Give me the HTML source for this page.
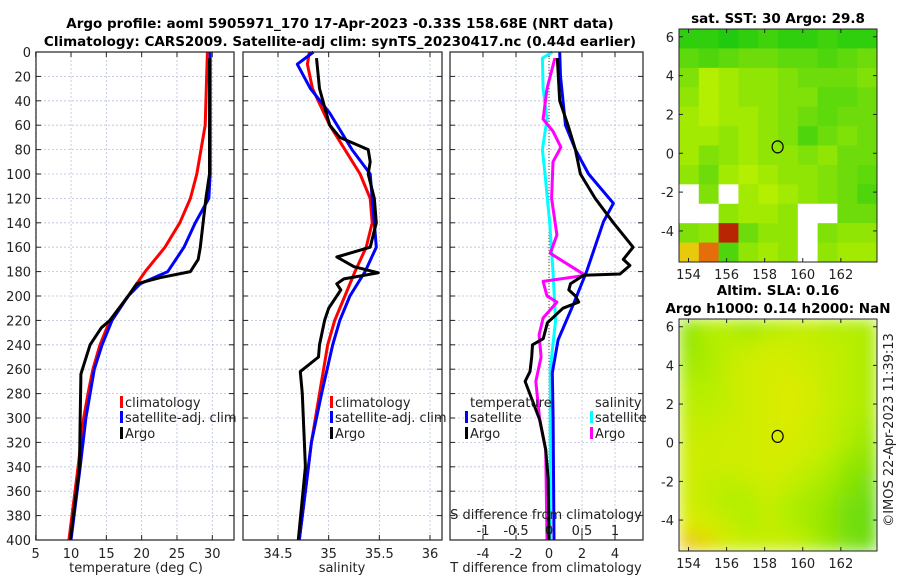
<!DOCTYPE html>
<html><head><meta charset="utf-8"><style>
body{margin:0;background:#fff}
svg{display:block;font-family:"DejaVu Sans","Liberation Sans",sans-serif}
</style></head><body>
<svg id="fig" width="900" height="580" viewBox="0 0 900 580">
<text x="340" y="28" text-anchor="middle" font-size="13.5" font-weight="bold">Argo profile: aoml 5905971_170 17-Apr-2023 -0.33S 158.68E (NRT data)</text>
<text x="340" y="46" text-anchor="middle" font-size="13.5" font-weight="bold">Climatology: CARS2009. Satellite-adj clim: synTS_20230417.nc (0.44d earlier)</text>
<text x="778" y="23" text-anchor="middle" font-size="13.5" font-weight="bold">sat. SST: 30 Argo: 29.8</text>
<text x="778" y="295" text-anchor="middle" font-size="13.5" font-weight="bold">Altim. SLA: 0.16</text>
<text x="778" y="313" text-anchor="middle" font-size="13.5" font-weight="bold">Argo h1000: 0.14 h2000: NaN</text>
<text transform="translate(893,430) rotate(-90)" text-anchor="middle" font-size="13" fill="#222">©IMOS 22-Apr-2023 11:39:13</text>
</svg>
<script>
const depthTicks=[0,20,40,60,80,100,120,140,160,180,200,220,240,260,280,300,320,340,360,380,400];
const tempTicks=[5,10,15,20,25,30];
const salTicks=[34.5,35,35.5,36];
const tdiffTicks=[-4,-2,0,2,4];
const sdiffTicks=[-1,-0.5,0,0.5,1];
const sdiffLabels=["-1","-0.5","0","0.5","1"];
// temperature profiles
const climTD=[0,60,80,100,120,140,160,180,200,220,240,260,280,300,340,400];
const climT=[29.3,29.0,28.4,27.8,26.9,25.4,23.3,20.5,18.1,15.5,14.1,13.1,12.4,11.8,11.0,9.7];
const satTD=[0,100,120,140,160,180,190,200,220,240,260,300,340,400];
const satT=[29.7,29.7,29.5,27.6,26.0,23.7,19.8,18.1,15.8,14.4,13.3,12.1,11.3,10.0];
const argoTD=[5,100,120,140,160,170,180,185,190,200,220,226,240,264,300,340,400];
const argoT=[29.6,29.6,29.1,28.7,28.3,28.0,26.9,22.6,19.3,18.1,15.5,14.3,12.7,11.4,11.3,11.2,9.9];
// salinity profiles
const climSD=[0,10,30,60,80,100,120,140,160,180,200,220,240,280,320,360,400];
const climS=[34.81,34.79,34.84,35.01,35.16,35.31,35.41,35.43,35.37,35.26,35.16,35.06,34.99,34.91,34.83,34.77,34.71];
const satSD=[0,10,30,50,80,100,120,140,160,180,200,220,240,280,320,360,400];
const satS=[34.85,34.69,34.82,35.01,35.23,35.41,35.43,35.45,35.47,35.36,35.21,35.11,35.04,34.93,34.83,34.77,34.71];
const argoSD=[5,30,60,70,80,90,100,120,140,160,168,176,181,186,190,195,200,210,220,240,250,262,280,340,400];
const argoS=[34.88,34.91,35.01,35.11,35.39,35.41,35.39,35.45,35.47,35.41,35.08,35.25,35.49,35.15,35.08,35.12,35.08,35.0,34.96,34.91,34.9,34.72,34.74,34.77,34.7];
// difference profiles
const satDTD=[0,20,60,80,100,124,139,179,206,236,263,300,400];
const satDT=[0.65,0.7,1.0,1.6,2.4,3.9,3.3,2.3,1.5,0.55,0.2,0.25,0.3];
const argoDTD=[5,40,60,80,100,120,140,160,170,175,182,183,190,195,200,205,210,222,235,240,250,262,270,302,326,350,400];
const argoDT=[0.5,0.65,1.15,1.6,1.9,2.8,3.9,5.1,4.5,4.9,4.3,2.1,1.3,1.2,1.6,1.8,0.85,-0.1,-0.35,-1.0,-1.05,-1.15,-1.45,-0.55,-0.2,-0.05,0.0];
const satDSD=[0,5,30,55,80,100,140,180,220,260,300,400];
const satDS=[0.05,-0.1,-0.09,-0.03,-0.1,-0.06,0.01,0.06,0.1,0.02,0.02,0.02];
const argoDSD=[5,30,55,65,78,90,120,150,165,183,188,200,205,218,232,250,270,302,326,400];
const argoDS=[0.09,-0.03,-0.09,0.06,0.18,0.06,0.04,0.12,0.02,0.55,-0.09,-0.03,0.12,-0.09,-0.15,-0.12,-0.2,-0.14,-0.05,-0.03];
// maps
const lonTicks=[154,156,158,160,162];
const latTicks=[-4,-2,0,2,4,6];
const sstGrid=[
[0.1,0.1,0.05,0.1,0.15,0.1,0.1,0.15,0.1,0.1],
[0.25,0.2,0.25,0.3,0.3,0.25,0.25,0.2,0.25,0.3],
[0.35,0.5,0.45,0.4,0.4,0.35,0.3,0.3,0.3,0.35],
[0.4,0.5,0.45,0.4,0.4,0.35,0.35,0.25,0.25,0.3],
[0.45,0.5,0.45,0.45,0.4,0.35,0.3,0.25,0.3,0.3],
[0.45,0.45,0.4,0.45,0.4,0.35,0.2,0.3,0.35,0.3],
[0.45,0.35,0.4,0.45,0.4,0.4,0.35,0.4,0.3,0.3],
[0.4,0.3,0.45,0.5,0.45,0.4,0.4,0.35,0.3,0.25],
[null,0.35,null,0.45,0.5,0.45,0.4,0.35,0.3,0.2],
[null,null,0.4,0.45,0.45,0.4,null,null,0.3,0.3],
[0.35,0.4,0.95,0.3,0.4,0.4,null,0.35,0.4,0.4],
[0.7,0.85,0.2,0.4,0.45,0.4,null,0.4,0.45,0.45]];
const slaGrid=[
[0.4,0.5,0.5,0.45,0.5,0.52,0.55,0.5,0.5,0.48],
[0.42,0.48,0.52,0.55,0.58,0.58,0.56,0.55,0.52,0.48],
[0.45,0.48,0.55,0.58,0.6,0.6,0.58,0.55,0.52,0.48],
[0.5,0.5,0.55,0.58,0.6,0.62,0.6,0.55,0.52,0.48],
[0.52,0.52,0.55,0.58,0.6,0.62,0.6,0.56,0.52,0.48],
[0.55,0.55,0.57,0.58,0.6,0.62,0.58,0.55,0.5,0.46],
[0.57,0.57,0.58,0.58,0.6,0.6,0.58,0.55,0.48,0.42],
[0.58,0.57,0.58,0.58,0.6,0.58,0.55,0.5,0.42,0.38],
[0.58,0.55,0.52,0.55,0.58,0.55,0.5,0.46,0.38,0.34],
[0.58,0.55,0.5,0.5,0.55,0.5,0.46,0.42,0.34,0.3],
[0.62,0.58,0.55,0.5,0.55,0.5,0.46,0.4,0.32,0.28],
[0.7,0.66,0.58,0.55,0.55,0.55,0.5,0.42,0.35,0.3]];

const NS="http://www.w3.org/2000/svg";
const svg=document.getElementById('fig');
function mk(tag,at,parent){const e=document.createElementNS(NS,tag);for(const k in at)e.setAttribute(k,at[k]);(parent||svg).appendChild(e);return e;}
const yTop=52,yBot=540;
function yD(d){return yTop+(d/400)*(yBot-yTop);}
function linScale(d0,d1,r0,r1){return v=>r0+(v-d0)/(d1-d0)*(r1-r0);}

function panel(name,x0,x1,xs,ticks,labels,showY){
  const g=mk('g',{});
  
  
  depthTicks.forEach(d=>{const l=mk('line',{x1:x0,x2:x1,y1:yD(d),y2:yD(d),stroke:'#b8bfe0','stroke-width':0.8,'stroke-dasharray':'2,2'},g);
    mk('line',{x1:x0,x2:x0+5,y1:yD(d),y2:yD(d),stroke:'#222'},g);mk('line',{x1:x1-5,x2:x1,y1:yD(d),y2:yD(d),stroke:'#222'},g);
    if(showY){const t=mk('text',{x:x0-5,y:yD(d)+5,'text-anchor':'end','font-size':13,fill:'#222'},g);t.textContent=d;}
  });
  ticks.forEach((v,i)=>{const x=xs(v);if(x<x0-1||x>x1+1)return;
    const l=mk('line',{x1:x,x2:x,y1:yTop,y2:yBot,stroke:'#b8bfe0','stroke-width':0.8,'stroke-dasharray':'2,2'},g);
    mk('line',{x1:x,x2:x,y1:yBot-5,y2:yBot,stroke:'#222'},g);mk('line',{x1:x,x2:x,y1:yTop,y2:yTop+5,stroke:'#222'},g);
    const t=mk('text',{x:x,y:yBot+18,'text-anchor':'middle','font-size':13,fill:'#222'},g);t.textContent=labels?labels[i]:v;});
  return g;
}
function frame(g,x0,x1){mk('rect',{x:x0,y:yTop,width:x1-x0,height:yBot-yTop,fill:'none',stroke:'#222','stroke-width':1.2},g);}
function series(g,name,ds,vs,xs,color){
  const p=ds.map((d,i)=>xs(vs[i]).toFixed(1)+','+yD(d).toFixed(1)).join(' ');
  const e=mk('polyline',{points:p,fill:'none',stroke:color,'stroke-width':3,'stroke-linejoin':'round'},g);
  
  
}
function txt(g,x,y,s,name,anchor,size){const t=mk('text',{x:x,y:y,'font-size':size||13,fill:'#222','text-anchor':anchor||'start'},g);t.textContent=s;return t;}
function legend(g,x,y,color,label,name){const r=mk('rect',{x:x,y:y-11,width:3,height:12,fill:color},g);txt(g,x+5,y,label,name);}

// panel 1
const xT=linScale(5,30,35.7,212.3);
let g1=panel('temperature-panel',36,234,xT,tempTicks,null,true);
series(g1,'temp-climatology',climTD,climT,xT,'#ff0000');
series(g1,'temp-satellite-adj',satTD,satT,xT,'#0000ff');
series(g1,'temp-argo',argoTD,argoT,xT,'#000000');
frame(g1,36,234);
legend(g1,120,407,'#ff0000','climatology','legend-climatology');
legend(g1,120,422,'#0000ff','satellite-adj. clim','legend-satellite');
legend(g1,120,438,'#000000','Argo','legend-argo');
txt(g1,136,572,'temperature (deg C)','temperature-axis-title','middle');

// panel 2
const xS=linScale(34.5,36,278,430);
let g2=panel('salinity-panel',243,442,xS,salTicks,null,false);
series(g2,'sal-climatology',climSD,climS,xS,'#ff0000');
series(g2,'sal-satellite-adj',satSD,satS,xS,'#0000ff');
series(g2,'sal-argo',argoSD,argoS,xS,'#000000');
frame(g2,243,442);
legend(g2,330,407,'#ff0000','climatology','legend-climatology-2');
legend(g2,330,422,'#0000ff','satellite-adj. clim','legend-satellite-2');
legend(g2,330,438,'#000000','Argo','legend-argo-2');
txt(g2,342,572,'salinity','salinity-axis-title','middle');

// panel 3
const xDT=linScale(-4,4,483,615);
const xDS=linScale(-1,1,483,615);
let g3=panel('difference-panel',450,643,xDT,tdiffTicks,null,false);
const zl=mk('line',{x1:xDT(0),x2:xDT(0),y1:yTop,y2:yBot,stroke:'#444','stroke-width':1,'stroke-dasharray':'1,2'},g3);

series(g3,'sdiff-satellite',satDSD,satDS,xDS,'#00ffff');
series(g3,'sdiff-argo',argoDSD,argoDS,xDS,'#ff00ff');
series(g3,'tdiff-satellite',satDTD,satDT,xDT,'#0000ff');
series(g3,'tdiff-argo',argoDTD,argoDT,xDT,'#000000');
frame(g3,450,643);
txt(g3,470,407,'temperature','legend-temperature-header');
legend(g3,465,422,'#0000ff','satellite','legend-tdiff-satellite');
legend(g3,465,438,'#000000','Argo','legend-tdiff-argo');
txt(g3,595,407,'salinity','legend-salinity-header');
legend(g3,590,422,'#00ffff','satellite','legend-sdiff-satellite');
legend(g3,590,438,'#ff00ff','Argo','legend-sdiff-argo');
txt(g3,546,519,'S difference from climatology','sdiff-axis-title','middle');
sdiffTicks.forEach((v,i)=>{txt(g3,xDS(v),535,sdiffLabels[i],'sdiff-tick-label','middle');mk('line',{x1:xDS(v),x2:xDS(v),y1:yBot-12,y2:yBot-7,stroke:'#222'},g3);});
txt(g3,546,572,'T difference from climatology','tdiff-axis-title','middle');

// maps
function cmap(v){
  const stops=[[0,[16,200,16]],[0.3,[110,220,10]],[0.5,[180,238,0]],[0.62,[220,236,0]],[0.75,[240,180,20]],[0.85,[230,110,10]],[1,[160,0,0]]];
  for(let i=1;i<stops.length;i++){if(v<=stops[i][0]){const a=stops[i-1],b=stops[i],t=(v-a[0])/(b[0]-a[0]);return 'rgb('+a[1].map((c,j)=>Math.round(c+(b[1][j]-c)*t)).join(',')+')';}}
  return 'rgb(160,0,0)';
}
function map(name,grid,x0,y0,x1,y1,blur){
  const g=mk('g',{});
  
  
  const lonS=linScale(153.5,163.9,x0,x1);
  const lat0=6.4,lat1=-5.6;
  const latS=linScale(lat0,lat1,y0,y1);
  const cg=mk('g',blur?{filter:'url(#bl)'}:{},g);
  const rows=grid.length,cols=grid[0].length;
  const cw=(x1-x0)/cols,ch=(y1-y0)/rows;
  grid.forEach((row,r)=>row.forEach((v,c)=>{
    const rc=mk('rect',{x:x0+c*cw,y:y0+r*ch,width:cw+0.5,height:ch+0.5,fill:v===null?'#ffffff':cmap(v)},cg);
    
    
  }));
  const cp=mk('ellipse',{cx:lonS(158.68),cy:latS(0.33),rx:5.5,ry:6,fill:'none',stroke:'#000','stroke-width':1.2},g);
  
  mk('rect',{x:x0,y:y0,width:x1-x0,height:y1-y0,fill:'none',stroke:'#222','stroke-width':1},g);
  lonTicks.forEach(v=>{const x=lonS(v);mk('line',{x1:x,x2:x,y1:y1-4,y2:y1,stroke:'#222'},g);mk('line',{x1:x,x2:x,y1:y0,y2:y0+4,stroke:'#222'},g);txt(g,x,y1+17,v,'lon-tick-label','middle');});
  latTicks.forEach(v=>{const y=latS(v);mk('line',{x1:x0,x2:x0+4,y1:y,y2:y,stroke:'#222'},g);mk('line',{x1:x1-4,x2:x1,y1:y,y2:y,stroke:'#222'},g);txt(g,x0-5,y+5,v,'lat-tick-label','end');});
}
const defs=mk('defs',{});
const f=mk('filter',{id:'bl',x:0,y:0,width:1,height:1},defs);
mk('feGaussianBlur',{stdDeviation:8,edgeMode:'duplicate'},f);
map('sst-map',sstGrid,679,29,877,262,false);
map('sla-map',slaGrid,679,319,877,551,true);
</script>
</body></html>
